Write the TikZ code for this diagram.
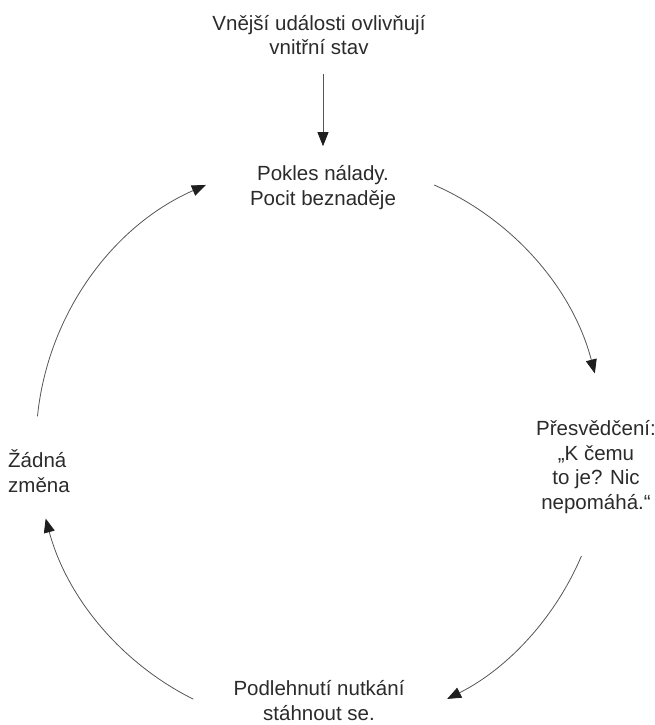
\documentclass[tikz,border=0pt]{standalone}
\usepackage{fontspec}
\setmainfont{Liberation Sans}
\usetikzlibrary{arrows.meta,calc}
\definecolor{txt}{HTML}{2B2B2B}
\definecolor{ln}{HTML}{555555}
\definecolor{tip}{HTML}{1E1E1E}
\begin{document}
\begin{tikzpicture}[x=1pt,y=1pt,
  lbl/.style={inner sep=0pt,text=txt,font=\fontsize{20.5}{24.5}\selectfont},
  arr/.style={draw=ln,line width=0.8pt,-{Triangle[length=14pt,width=11pt,color=tip,fill=tip]}}]
\useasboundingbox (0,0) rectangle (655,-725);
% anchor=base is the baseline of the last line
\node[lbl,align=center,anchor=base] (top) at (319,-55) {Vnější události ovlivňují\\vnitřní stav};
\node[lbl,align=center,anchor=base] (pokles) at (323,-205) {Pokles nálady.\\Pocit beznaděje};
\node[lbl,align=center,anchor=base] (pres) at (596,-509) {Přesvědčení:\\„K čemu\\to je? Nic\\nepomáhá.“};
\node[lbl,align=center,anchor=base] (podl) at (319,-720) {Podlehnutí nutkání\\stáhnout se.};
\node[lbl,align=left,anchor=base west] (zadna) at (8,-492) {Žádná\\změna};
\draw[arr] ($(top.south)+(4,-19)$) coordinate (t0) -- ($(pokles.north)+(0,19)$) coordinate (t1);
\coordinate (C) at (320,-445);
\coordinate (s1) at ($(C)+(66.3:284)$);
\coordinate (s2) at ($(C)+(-23:284)$);
\coordinate (s3) at ($(C)+(243.5:284)$);
\coordinate (s4) at ($(C)+(174.2:284)$);
\draw[arr] (s1) arc[start angle=66.3,end angle=14.6,radius=284];
\draw[arr] (s2) arc[start angle=-23,end angle=-63.4,radius=284];
\draw[arr] (s3) arc[start angle=243.5,end angle=195,radius=284];
\draw[arr] (s4) arc[start angle=174.2,end angle=113.7,radius=284];
\end{tikzpicture}
\end{document}
